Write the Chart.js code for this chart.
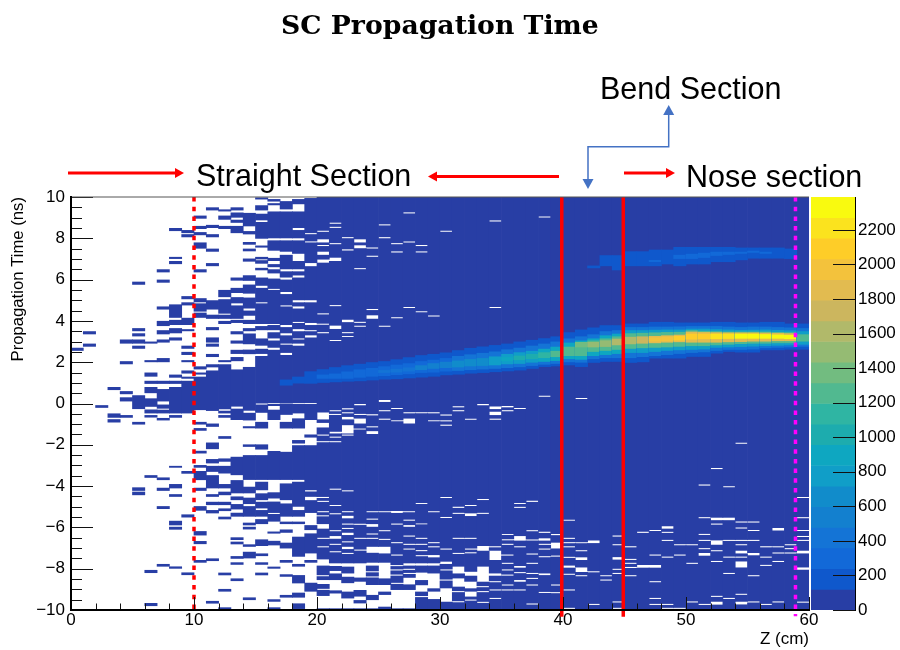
<!DOCTYPE html>
<html>
<head>
<meta charset="utf-8">
<title>SC Propagation Time</title>
<script src="https://cdn.jsdelivr.net/npm/chart.js@4"></script>
<style>
    body { margin: 0; background: #fff; width: 900px; height: 650px; overflow: hidden; position: relative; }
    canvas { position: absolute; top: 0; }
    .note { position: absolute; font: 30.5px "Liberation Sans", Arial, sans-serif; line-height: 34px; color: #000; white-space: nowrap; }
    .title { position: absolute; left: 281px; top: 9px; font: bold 26.7px "DejaVu Serif", serif; line-height: 32px; color: #000; white-space: nowrap; }
</style>
</head>
<body>
<canvas id="mainChart" width="880" height="650" style="left:0"></canvas>
<canvas id="barChart" width="95" height="650" style="left:805px"></canvas>
<div class="title">SC Propagation Time</div>
<div class="note" style="left:196px;top:158px">Straight Section</div>
<div class="note" style="left:600px;top:71px">Bend Section</div>
<div class="note" style="left:686px;top:159px">Nose section</div>
<script>
// colour band per palette step, bottom to top of the bar
const bandColors = ['#283ea5', '#0f58cc', '#1269d8', '#1474d6', '#1380cf', '#118ccb', '#109ec8', '#0ea7c1', '#1dacae', '#2fb5a3',
    '#51b990', '#72bc80', '#95bb73', '#b1b96a', '#ccb65e', '#e2bb50', '#f3c23c', '#fecd28', '#fbe31e', '#f9fa0f'];
const bandStep = 119.5;
const barTicks = [0, 200, 400, 600, 800, 1000, 1200, 1400, 1600, 1800, 2000, 2200];

const straightEnd = [10];
const bendLimits = [39.9, 44.9];
const noseEnd = [58.9];

// occupied time ranges (ns) for Z bins 0..19, low counts only
const sparseRuns = [
    [[2.7, 2.55]],
    [[3.5, 3.35], [2.9, 2.75]],
    [[-0.08, -0.21]],
    [[0.8, 0.65], [-0.48, -0.69], [-0.76, -0.92]],
    [[3.1, 2.9], [2.05, 1.9], [0.6, 0.45], [0.3, 0.1], [-0.56, -0.69]],
    [[5.9, 5.75], [3.65, 3.5], [3.4, 3.25], [3.1, 2.9], [2.8, 2.65], [0.4, -0.27], [-0.89, -1.02], [-4.06, -4.23], [-4.27, -4.44]],
    [[3.0, 2.9], [2.1, 2.0], [1.5, 1.3], [1.1, 0.95], [0.8, 0.5], [0.25, -0.16], [-0.29, -0.48], [-0.56, -0.68], [-3.47, -3.6], [-8.06, -8.21], [-9.66, -9.81]],
    [[6.5, 6.35], [6.0, 5.85], [4.7, 4.55], [4.0, 3.75], [3.55, 3.35], [3.1, 2.95], [2.2, 2.0], [1.1, 0.95], [0.7, 0.1], [-0.05, -0.25], [-0.3, -0.48], [-0.7, -0.82], [-3.58, -3.71], [-4.08, -4.23], [-4.97, -5.11], [-7.77, -7.9]],
    [[8.5, 8.35], [7.1, 7.0], [6.9, 6.75], [4.8, 4.15], [4.05, 3.8], [3.65, 3.4], [3.2, 3.05], [1.4, 1.25], [1.1, 0.95], [0.8, -0.48], [-0.56, -0.69], [-3.02, -3.11], [-3.9, -4.11], [-4.39, -4.52], [-5.68, -5.9], [-5.97, -6.11], [-7.89, -8.0]],
    [[8.4, 8.25], [8.2, 8.05], [5.2, 5.05], [4.9, 4.75], [4.15, 3.8], [3.6, 3.5], [2.8, 2.65], [2.5, 2.35], [2.1, 2.0], [1.6, 1.45], [1.3, 1.2], [1.1, -0.48], [-3.27, -3.4], [-5.37, -5.52], [-8.18, -8.31]],
    [[9.1, 8.95], [8.6, 8.45], [8.3, 8.15], [7.8, 7.5], [6.5, 6.35], [5.1, 4.9], [4.85, 4.45], [4.4, 4.15], [1.8, 1.65], [1.5, 1.4], [1.3, -0.32], [-0.89, -1.02], [-1.19, -1.32], [-2.29, -2.42], [-2.98, -3.11], [-3.27, -3.71], [-4.08, -4.23], [-4.97, -5.19], [-6.18, -6.39], [-6.66, -6.81], [-7.58, -7.71]],
    [[9.5, 9.35], [8.65, 8.5], [8.2, 8.05], [7.5, 7.35], [6.8, 6.65], [5.0, 4.55], [4.3, 4.1], [3.7, 3.55], [3.2, 2.95], [2.9, 2.75], [2.4, 2.25], [1.9, 1.75], [1.6, -0.36], [-0.97, -1.13], [-1.89, -2.21], [-2.69, -2.9], [-3.02, -3.31], [-3.47, -4.11], [-4.39, -4.52], [-4.76, -4.92], [-5.16, -5.32], [-7.5, -7.63], [-9.56, -9.69]],
    [[9.4, 9.3], [9.1, 8.9], [8.6, 8.45], [5.5, 5.15], [5.05, 4.35], [4.3, 4.1], [4.0, 3.85], [2.1, 2.0], [1.9, -0.28], [-0.35, -0.48], [-0.56, -0.69], [-1.58, -1.71], [-2.66, -2.82], [-3.02, -3.39], [-3.9, -4.11], [-4.27, -4.44], [-4.76, -4.92], [-5.08, -5.21], [-5.48, -5.61], [-8.19, -8.32], [-8.98, -9.11], [-9.87, -10]],
    [[9.5, 9.35], [9.25, 9.0], [8.9, 8.75], [8.6, 8.25], [6.1, 5.95], [5.6, 5.35], [5.15, 4.85], [4.75, 4.1], [4.05, 3.9], [3.5, 3.35], [3.05, 2.9], [2.6, 2.4], [2.25, 2.05], [1.65, -0.15], [-0.25, -0.8], [-2.58, -3.47], [-3.71, -4.35], [-4.5, -4.68], [-4.87, -5.13], [-5.29, -5.48], [-6.48, -6.61], [-6.69, -6.82], [-7.39, -7.52], [-7.69, -7.81], [-8.47, -8.6]],
    [[9.23, 8.58], [8.35, 8.19], [7.82, 7.69], [7.5, 7.37], [7.02, 6.87], [6.21, 5.94], [5.76, 5.32], [5.13, 4.6], [4.5, 4.25], [4.05, 3.85], [3.65, 3.5], [3.39, 2.87], [2.61, 2.39], [1.77, -0.35], [-0.45, -0.82], [-1.1, -1.2], [-1.98, -2.1], [-2.5, -3.7], [-4.03, -4.35], [-4.56, -4.87], [-4.97, -5.48], [-5.77, -5.9], [-5.97, -6.1], [-6.82, -6.94], [-7.18, -7.5], [-9.39, -9.52]],
    [[9.98, 9.88], [9.6, 9.35], [9.19, 8.87], [8.79, 7.98], [7.65, 7.55], [7.1, 6.98], [6.94, 6.77], [6.57, 6.45], [6.1, 5.7], [5.6, 4.9], [4.85, 3.85], [3.75, 3.55], [3.15, 2.8], [2.65, 2.4], [2.3, 0], [-0.05, -0.45], [-0.89, -1.21], [-1.98, -2.23], [-2.5, -3.7], [-3.79, -4.2], [-4.35, -4.68], [-4.76, -5.08], [-5.16, -5.48], [-5.6, -5.84], [-6.58, -6.9], [-7.26, -7.39], [-7.69, -7.81], [-8.19, -8.32]],
    [[9.9, 9.78], [9.7, 9.6], [9.3, 8.0], [7.9, 7.4], [7.05, 6.9], [6.75, 6.6], [6.5, 6.3], [6.05, 5.55], [5.5, 3.85], [3.8, 3.55], [3.45, 3.15], [3.05, 2.7], [2.6, 0.02], [-0.02, -0.12], [-0.3, -0.8], [-2.3, -3.7], [-4.3, -4.6], [-4.75, -5.3], [-5.35, -5.72], [-6.2, -6.3], [-6.65, -6.87], [-7.9, -8.0], [-9.48, -9.6], [-9.87, -10]],
    [[9.8, 9.4], [9.3, 8.0], [7.9, 7.35], [7.2, 6.5], [6.4, 6.1], [6.0, 5.4], [5.3, 4.75], [4.7, 3.8], [3.7, 3.4], [3.3, 2.9], [2.85, 2.45], [2.35, 0], [-0.02, -0.55], [-0.89, -1.21], [-2.34, -3.7], [-3.87, -4.68], [-4.84, -5.48], [-5.72, -5.84], [-6.1, -6.26], [-6.74, -7.02], [-7.58, -7.71], [-8.27, -8.39], [-9.27, -9.4]],
    [[9.9, 9.65], [9.3, 8.5], [8.4, 8.0], [7.9, 7.25], [6.9, 6.5], [6.4, 6.2], [6.1, 5.0], [4.9, 4.7], [4.6, 3.95], [3.9, 3.6], [3.5, 3.15], [3.1, 2.9], [2.8, 0.02], [-0.02, -0.48], [-0.72, -1.21], [-1.77, -1.94], [-2.02, -3.7], [-3.79, -5.0], [-5.16, -5.48], [-5.72, -5.84], [-6.45, -7.42], [-7.77, -7.9], [-8.31, -8.71], [-9.16, -9.4], [-9.68, -9.95]],
    [[9.95, 8.25], [8.2, 7.85], [7.8, 6.8], [6.65, 5.0], [4.9, 3.9], [3.8, 3.55], [3.5, 3.3], [3.2, 0.02], [-0.02, -0.8], [-1.5, -1.65], [-2.02, -4.2], [-4.26, -4.52], [-4.68, -5.3], [-5.89, -6.13], [-6.29, -7.26], [-7.58, -7.71], [-8.68, -9.11]]
];

// empty time ranges (ns) for Z bins 20..59, a lone number is one empty 0.05 ns row
const denseGaps = [
    [8.34, [7.95, 7.8], 7.65, [7.35, 7.2], [6.97, 6.82], 4.34, 3.84, 3.43, [-0.44, -0.77], [-0.94, -1.16], -1.53, -1.85, -4.55, -4.74, -5.24, -5.44, [-5.84, -6.06], -6.53, -6.94, [-7.55, -7.85], -8.34, [-8.55, -8.74], -9.0, [-9.32, -9.92]],
    [8.73, 8.53, 7.74, [7.06, 6.9], 4.74, [3.77, 3.61], 3.05, -0.35, -0.53, [-1.37, -1.45], -1.63, -1.85, -4.15, -4.94, -5.34, -6.16, [-6.42, -6.55], -6.82, -7.18, [-7.74, -7.87], [-8.11, -8.23], [-8.55, -9.05], [-9.2, -9.92]],
    [8.03, 7.44, [4.06, 3.94], 3.43, 3.24, -0.26, -0.45, [-0.65, -0.77], [-1.05, -1.45], -1.53, -4.23, -5.24, [-5.44, -5.56], -5.84, -6.05, [-6.26, -6.37], -6.7, [-6.94, -7.05], -7.26, [-7.74, -7.9], [-8.23, -8.39], [-8.7, -9.11], [-9.44, -9.92]],
    [[7.95, 7.8], [7.66, 7.52], 6.53, 3.93, 3.74, -0.05, -0.06, -0.53, [-0.73, -0.97], -1.24, -5.85, -6.53, -7.1, [-7.74, -8.43], [-8.63, -9.03], [-9.35, -9.52], [-9.68, -9.92]],
    [7.53, 7.13, 4.55, [4.27, 4.11], -0.55, -1.13, [-1.34, -1.48], -5.24, -5.6, [-5.84, -5.97], -6.32, -6.53, [-6.94, -7.23], [-7.71, -7.85], -8.15, -8.4, [-8.79, -9.27], [-9.52, -9.92]],
    [8.65, 8.03, 3.74, 0.15, 0.1, -0.35, -0.76, -5.24, -6.16, -6.58, [-6.94, -7.26], [-7.71, -8.47], [-8.79, -9.11], [-9.27, -9.84]],
    [7.74, 7.34, 4.15, -0.24, -0.84, [-5.2, -5.3], -5.84, -6.74, -7.34, -7.85, -8.06, -8.31, -8.71, [-9.03, -9.92]],
    [9.23, 7.82, 4.65, -0.45, [-0.73, -0.97], -5.24, -5.65, [-5.89, -5.97], -6.42, -6.82, -7.05, [-7.74, -7.85], -8.03, -8.23, [-8.44, -8.76], [-9.03, -9.92]],
    [7.65, 7.34, 4.44, -0.45, -4.84, [-5.81, -5.85], -6.53, -6.82, [-7.1, -7.15], -7.37, [-7.74, -7.85], [-8.19, -8.55], [-8.8, -9.11], -9.35],
    [4.24, -0.45, -0.84, -5.24, -6.74, -6.94, [-7.34, -7.45], [-7.74, -7.85], [-8.23, -8.95], [-9.11, -9.47]],
    [8.34, -0.56, -0.84, -1.05, -4.55, -5.52, -7.05, [-7.66, -7.77], -8.06, -8.55, [-8.95, -9.6]],
    [-0.16, -0.16, -0.35, -5.03, -5.32, -6.53, -7.26, [-7.9, -8.23], [-8.47, -8.87], -9.11, -9.6],
    [-0.76, -4.94, [-5.32, -5.45], -6.53, -7.05, -7.23, [-8.15, -8.34], [-8.63, -8.95], [-9.11, -9.35], -9.52],
    [-0.05, -0.06, -4.65, -5.32, [-6.9, -7.13], [-7.9, -8.63], -8.87, -9.11, -9.63],
    [8.84, 4.65, [-0.15, -0.27], [-0.4, -0.56], -0.76, -6.94, [-7.13, -7.58], [-8.23, -8.34], -8.63, -9.03, -9.44],
    [-0.15, -0.16, -0.35, -6.34, -6.6, -6.82, -7.34, -7.74, -8.06, -8.31, -8.79, -9.03],
    [-0.24, -0.24, -4.84, -5.03, [-6.42, -6.64], -6.94, [-7.87, -7.95], -8.19, [-8.55, -8.63], -9.03],
    [-4.74, -6.16, -6.61, -7.29, -7.74, -8.23, -8.47, -8.79, -9.71],
    [9.03, 0.35, -6.24, [-6.53, -6.64], -6.82, -7.05, -7.42, [-8.23, -8.31], -9.15],
    [[-6.74, -7.02], -6.35, -7.39, -8.79, -9.16],
    [-5.65, -6.53, -6.74, -6.94, -7.45, [-7.85, -7.95], -8.27, -9.03, -9.92],
    [0.24, -6.74, -7.13, [-7.45, -7.58], [-7.94, -8.16], -8.34],
    [[-6.63, -6.76], -8.15, -9.73],
    [-8.34, -8.55],
    [-6.42, -6.84, [-7.44, -7.56], -8.03, -8.23, -9.61, -9.92],
    [-6.94, -7.55, -7.74, -7.94, -8.34],
    [-6.24, [-7.82, -7.95]],
    [-6.15, -7.34, [-7.82, -7.95], -8.63, -9.44, -9.73],
    [[-5.94, -6.06], -6.24, -6.63, -7.44, -9.73, -9.92],
    [-6.84, -7.34, -9.92],
    [-6.84, -7.74, -9.61],
    [-3.95, -5.53, -6.34, -6.63, -7.03, [-7.24, -7.37], -9.73],
    [-3.15, [-5.53, -5.65], -5.84, [-6.63, -6.84], -7.13, -7.65, -9.34, [-9.6, -9.74]],
    [-4.03, [-5.53, -5.65], -6.63, -7.44, -8.23, -9.44],
    [-1.93, -5.74, -6.03, -6.63, -6.84, [-7.13, -7.26], -7.44, [-7.65, -7.94], -9.24, [-9.6, -9.73]],
    [-5.74, -6.15, -6.63, [-7.24, -7.35], -8.34, -9.61],
    [-6.94, -7.44, -7.84, -9.73],
    [[-6.03, -6.15], -6.94, -7.24, -7.65, -9.61],
    [-6.84, -7.03, -7.24],
    [-4.55, -5.53, -6.15, -6.44, -6.63, [-7.13, -7.26], [-7.94, -8.05], -9.62]
];

// counts around the main band, bins 17..59, as [from, to, count] outer to inner
const mainBand = [
    [[0.87, 1.16, 180]],
    [[0.97, 1.3, 180]],
    [[0.96, 1.56, 180]],
    [[1.0, 1.66, 180], [1.2, 1.4, 250]],
    [[1.03, 1.76, 180], [1.2, 1.45, 300]],
    [[1.06, 1.85, 180], [1.2, 1.55, 300]],
    [[1.08, 1.92, 180], [1.25, 1.65, 300]],
    [[1.12, 2.0, 180], [1.3, 1.72, 300]],
    [[1.16, 2.05, 180], [1.33, 1.8, 300], [1.48, 1.62, 420]],
    [[1.18, 2.14, 180], [1.38, 1.88, 300], [1.5, 1.68, 420]],
    [[1.22, 2.24, 180], [1.42, 1.95, 300], [1.55, 1.75, 440]],
    [[1.26, 2.34, 180], [1.48, 2.05, 320], [1.62, 1.85, 480]],
    [[1.3, 2.4, 180], [1.5, 2.12, 340], [1.68, 1.95, 520]],
    [[1.37, 2.47, 180], [1.55, 2.2, 340], [1.72, 2.02, 580]],
    [[1.4, 2.58, 180], [1.58, 2.3, 400], [1.75, 2.08, 600]],
    [[1.45, 2.69, 180], [1.62, 2.38, 400], [1.8, 2.15, 640]],
    [[1.48, 2.76, 180], [1.65, 2.45, 420], [1.82, 2.2, 680]],
    [[1.52, 2.83, 180], [1.68, 2.52, 420], [1.85, 2.28, 720]],
    [[1.56, 2.9, 180], [1.72, 2.62, 440], [1.9, 2.4, 760], [2.05, 2.25, 900]],
    [[1.6, 3.0, 180], [1.76, 2.7, 440], [1.92, 2.48, 800], [2.1, 2.32, 960]],
    [[1.68, 3.08, 180], [1.82, 2.8, 440], [1.98, 2.55, 800], [2.15, 2.4, 1020]],
    [[1.77, 3.16, 180], [1.88, 2.9, 460], [2.02, 2.65, 840], [2.2, 2.48, 1140]],
    [[1.8, 3.25, 180], [1.92, 3.0, 460], [2.06, 2.75, 860], [2.25, 2.55, 1260]],
    [[1.85, 3.45, 180], [2.0, 3.15, 460], [2.15, 2.95, 860], [2.3, 2.75, 1300]],
    [[1.77, 3.58, 180], [1.98, 3.25, 460], [2.12, 3.05, 860], [2.3, 2.95, 1200], [2.72, 2.98, 1380]],
    [[1.97, 3.68, 180], [2.15, 3.35, 460], [2.3, 3.15, 860], [2.5, 3.05, 1200], [2.72, 2.98, 1450]],
    [[2.02, 3.79, 180], [2.2, 3.5, 460], [2.35, 3.3, 860], [2.55, 3.15, 1200], [2.74, 3.06, 1500]],
    [[2.02, 3.79, 180], [2.2, 3.55, 460], [2.4, 3.38, 860], [2.6, 3.25, 1200], [2.82, 3.14, 1560]],
    [[1.97, 3.87, 180], [2.2, 3.7, 420], [2.45, 3.55, 800], [2.65, 3.4, 1200], [2.87, 3.23, 1620]],
    [[2.0, 3.87, 180], [2.25, 3.7, 420], [2.45, 3.55, 800], [2.68, 3.42, 1250], [2.9, 3.25, 1750]],
    [[2.18, 3.95, 180], [2.3, 3.72, 420], [2.5, 3.57, 800], [2.7, 3.44, 1300], [2.92, 3.27, 1800], [3.0, 3.2, 1980]],
    [[2.18, 3.95, 180], [2.35, 3.72, 420], [2.55, 3.58, 800], [2.72, 3.46, 1300], [2.95, 3.3, 1850], [3.02, 3.24, 2000]],
    [[2.18, 3.92, 180], [2.4, 3.73, 420], [2.58, 3.58, 800], [2.75, 3.47, 1300], [2.97, 3.33, 1850], [3.05, 3.27, 2100]],
    [[2.26, 3.92, 180], [2.45, 3.75, 420], [2.6, 3.62, 800], [2.78, 3.55, 1300], [2.95, 3.48, 1850], [3.1, 3.38, 2100]],
    [[2.26, 3.92, 180], [2.48, 3.75, 420], [2.62, 3.62, 800], [2.78, 3.52, 1300], [2.95, 3.46, 1850], [3.12, 3.38, 2150]],
    [[2.42, 3.95, 180], [2.55, 3.75, 420], [2.7, 3.6, 800], [2.82, 3.5, 1300], [2.95, 3.45, 1850], [3.12, 3.38, 2220]],
    [[2.5, 3.95, 180], [2.6, 3.72, 420], [2.72, 3.58, 800], [2.85, 3.48, 1300], [2.97, 3.44, 1850], [3.13, 3.38, 2260]],
    [[2.47, 3.92, 180], [2.6, 3.7, 420], [2.74, 3.56, 800], [2.88, 3.48, 1300], [2.98, 3.44, 1850], [3.14, 3.38, 2300]],
    [[2.47, 3.92, 180], [2.62, 3.72, 420], [2.76, 3.57, 800], [2.9, 3.48, 1300], [3.0, 3.44, 1850], [3.14, 3.38, 2340]],
    [[2.58, 3.95, 180], [2.68, 3.72, 420], [2.78, 3.58, 800], [2.9, 3.48, 1300], [3.0, 3.43, 1850], [3.14, 3.36, 2340]],
    [[2.58, 3.95, 180], [2.7, 3.7, 420], [2.8, 3.56, 800], [2.92, 3.46, 1300], [3.02, 3.42, 1850], [3.14, 3.34, 2340]],
    [[2.61, 3.87, 180], [2.72, 3.68, 420], [2.82, 3.54, 800], [2.92, 3.45, 1300], [3.02, 3.4, 1850], [3.12, 3.32, 2300]],
    [[2.61, 3.87, 180], [2.75, 3.65, 420], [2.85, 3.5, 800], [3.0, 3.35, 1300]]
];

// counts around the upper band, bins 42..58
const upperBand = [
    [[6.55, 6.68, 180]],
    [[6.65, 7.18, 180]],
    [[6.45, 7.18, 180]],
    [[6.65, 7.37, 180]],
    [[6.65, 7.37, 180]],
    [[6.65, 7.45, 180], [6.85, 6.95, 240]],
    [[6.74, 7.45, 180]],
    [[6.65, 7.58, 180], [7.0, 7.2, 240]],
    [[6.74, 7.58, 180], [7.0, 7.25, 240]],
    [[6.74, 7.58, 180], [7.05, 7.3, 240]],
    [[6.85, 7.58, 180], [7.15, 7.35, 240]],
    [[6.85, 7.58, 180], [7.2, 7.35, 240]],
    [[6.94, 7.55, 180], [7.25, 7.35, 240]],
    [[7.02, 7.55, 180], [7.3, 7.4, 240]],
    [[7.02, 7.55, 180], [7.25, 7.35, 240]],
    [[7.02, 7.55, 180]],
    [[7.0, 7.5, 180]]
];

// floating bars: one per occupied range of a Z bin
const cells = [];
function addCell(col, from, to, count) {
    cells.push({ x: col + 0.5, y: [from, to], count: count });
}

sparseRuns.forEach((runs, col) => {
    runs.forEach(r => addCell(col, r[1], r[0], 60));
});

denseGaps.forEach((gaps, i) => {
    const col = i + 20;
    const ranges = gaps.map(g => Array.isArray(g) ? [Math.max(g[0], g[1]), Math.min(g[0], g[1])] : [g + 0.025, g - 0.025]);
    ranges.sort((a, b) => b[0] - a[0]);
    let top = 10;
    ranges.forEach(g => {
        if (g[0] < top) addCell(col, g[0], top, 60);
        top = Math.min(top, g[1]);
    });
    addCell(col, -10, top, 60);
});

mainBand.forEach((runs, i) => runs.forEach(r => addCell(i + 17, r[0], r[1], r[2])));
upperBand.forEach((runs, i) => runs.forEach(r => addCell(i + 42, r[0], r[1], r[2])));

function bandColor(count) {
    return bandColors[Math.min(bandColors.length - 1, Math.floor(count / bandStep))];
}

function lineData(x, to) {
    return [{ x: x, y: 10 }, { x: x, y: to }];
}

// ROOT style axis: ticks point into the plot, two lengths
const insideTicks = {
    id: 'insideTicks',
    afterDatasetsDraw(chart) {
        const ctx = chart.ctx, area = chart.chartArea;
        const xs = chart.scales.x, ys = chart.scales.y;
        ctx.save();
        ctx.strokeStyle = '#111';
        ctx.lineWidth = 1;
        ctx.beginPath();
        for (let v = 0; v <= 60; v += 2) {
            const p = Math.round(xs.getPixelForValue(v)) + 0.5;
            ctx.moveTo(p, area.bottom);
            ctx.lineTo(p, area.bottom - (v % 10 === 0 ? 13 : 6.5));
        }
        for (let v = -10; v <= 10; v += 0.5) {
            const p = Math.round(ys.getPixelForValue(v)) + 0.5;
            ctx.moveTo(area.left, p);
            ctx.lineTo(area.left + (v % 2 === 0 ? 22 : 11), p);
        }
        ctx.stroke();
        ctx.strokeStyle = '#555';
        ctx.beginPath();
        ctx.moveTo(area.left, area.top);
        ctx.lineTo(area.right, area.top);
        ctx.stroke();
        ctx.restore();
    }
};

// section arrows above the plot
function arrowHead(ctx, x, y, dx, dy, size) {
    ctx.beginPath();
    ctx.moveTo(x, y);
    ctx.lineTo(x - dx * size - dy * size * 0.55, y - dy * size - dx * size * 0.55);
    ctx.lineTo(x - dx * size + dy * size * 0.55, y - dy * size + dx * size * 0.55);
    ctx.closePath();
    ctx.fill();
}

const sectionArrows = {
    id: 'sectionArrows',
    afterDraw(chart) {
        const ctx = chart.ctx;
        ctx.save();
        ctx.strokeStyle = ctx.fillStyle = '#ff0000';
        ctx.lineWidth = 3;
        [[68, 184, 173], [559, 428, 176.5], [624, 675, 173]].forEach(a => {
            const dir = a[1] > a[0] ? 1 : -1;
            ctx.beginPath();
            ctx.moveTo(a[0], a[2]);
            ctx.lineTo(a[1] - dir * 6, a[2]);
            ctx.stroke();
            arrowHead(ctx, a[1], a[2], dir, 0, 9);
        });
        ctx.strokeStyle = ctx.fillStyle = '#4472c4';
        ctx.lineWidth = 1.5;
        ctx.beginPath();
        ctx.moveTo(588, 182);
        ctx.lineTo(588, 146.7);
        ctx.lineTo(668.7, 146.7);
        ctx.lineTo(668.7, 112);
        ctx.stroke();
        arrowHead(ctx, 588, 189, 0, 1, 10);
        arrowHead(ctx, 668.7, 105, 0, -1, 10);
        ctx.restore();
    }
};

const tickFont = { family: '"Liberation Sans", Arial, sans-serif', size: 17 };

new Chart(document.getElementById('mainChart').getContext('2d'), {
    data: {
        datasets: [
            { type: 'line', data: lineData(straightEnd[0], -10), borderColor: '#ff0000', borderWidth: 3.5, borderDash: [4.5, 5.2], pointRadius: 0, clip: false, order: 0 },
            { type: 'line', data: lineData(bendLimits[0], -10.33), borderColor: '#ff0000', borderWidth: 3.5, pointRadius: 0, clip: false, order: 0 },
            { type: 'line', data: lineData(bendLimits[1], -10.33), borderColor: '#ff0000', borderWidth: 3.5, pointRadius: 0, clip: false, order: 0 },
            { type: 'line', data: lineData(noseEnd[0], -10.3), borderColor: '#ff00ff', borderWidth: 3.5, borderDash: [4.5, 5.2], pointRadius: 0, clip: false, order: 0 },
            {
                type: 'bar',
                data: cells,
                backgroundColor: ctx => bandColor(ctx.raw.count),
                borderWidth: 0,
                inflateAmount: 0,
                barThickness: 13,
                grouped: false,
                order: 1
            }
        ]
    },
    options: {
        responsive: false,
        animation: false,
        events: [],
        layout: { padding: { top: 197, right: 71, left: 0, bottom: 0 } },
        plugins: {
            legend: { display: false },
            tooltip: { enabled: false }
        },
        scales: {
            x: {
                type: 'linear',
                min: 0,
                max: 60,
                offset: false,
                grid: { display: false, drawTicks: false },
                border: { display: true, color: '#000', width: 2, z: 1 },
                ticks: { stepSize: 10, color: '#000', font: tickFont, padding: 0, maxRotation: 0 },
                title: { display: true, text: 'Z (cm)', align: 'end', color: '#000', font: { family: tickFont.family, size: 17 }, padding: { top: 3, bottom: 0 } },
                afterFit(scale) { scale.height = 40; }
            },
            y: {
                min: -10,
                max: 10,
                grid: { display: false, drawTicks: false },
                border: { display: true, color: '#000', width: 2, z: 1 },
                ticks: { stepSize: 2, color: '#000', font: tickFont, padding: 6, callback: v => String(v).replace('-', '\u2212') },
                title: { display: true, text: 'Propagation Time (ns)', align: 'end', color: '#000', font: { family: tickFont.family, size: 16.7 }, padding: { top: 8, bottom: 0 } },
                afterFit(scale) { scale.width = 71; }
            }
        }
    },
    plugins: [insideTicks, sectionArrows]
});

// colour bar
const barCells = bandColors.map((c, i) => ({ x: 'z', y: [i * bandStep, (i + 1) * bandStep] }));

const barTicksInside = {
    id: 'barTicksInside',
    afterDatasetsDraw(chart) {
        const ctx = chart.ctx, area = chart.chartArea, ys = chart.scales.y;
        ctx.save();
        ctx.strokeStyle = '#111';
        ctx.lineWidth = 1;
        ctx.beginPath();
        barTicks.forEach(v => {
            const p = Math.round(ys.getPixelForValue(v)) + 0.5;
            ctx.moveTo(area.right, p);
            ctx.lineTo(area.right - 22, p);
        });
        ctx.stroke();
        ctx.restore();
    }
};

new Chart(document.getElementById('barChart').getContext('2d'), {
    type: 'bar',
    data: {
        labels: ['z'],
        datasets: [{
            data: barCells,
            backgroundColor: bandColors,
            borderWidth: 0,
            inflateAmount: 0.3,
            barPercentage: 1,
            categoryPercentage: 1,
            grouped: false
        }]
    },
    options: {
        responsive: false,
        animation: false,
        events: [],
        layout: { padding: { top: 197, right: 0, left: 6, bottom: 40 } },
        plugins: { legend: { display: false }, tooltip: { enabled: false } },
        scales: {
            x: { display: false },
            y: {
                position: 'right',
                min: 0,
                max: bandStep * bandColors.length,
                afterBuildTicks(scale) { scale.ticks = barTicks.map(v => ({ value: v })); },
                grid: { display: false, drawTicks: false },
                border: { display: true, color: '#000', width: 1, z: 1 },
                ticks: { color: '#000', font: tickFont, padding: 3, callback: v => String(v) },
                afterFit(scale) { scale.width = 45; }
            }
        }
    },
    plugins: [barTicksInside]
});
</script>
</body>
</html>
